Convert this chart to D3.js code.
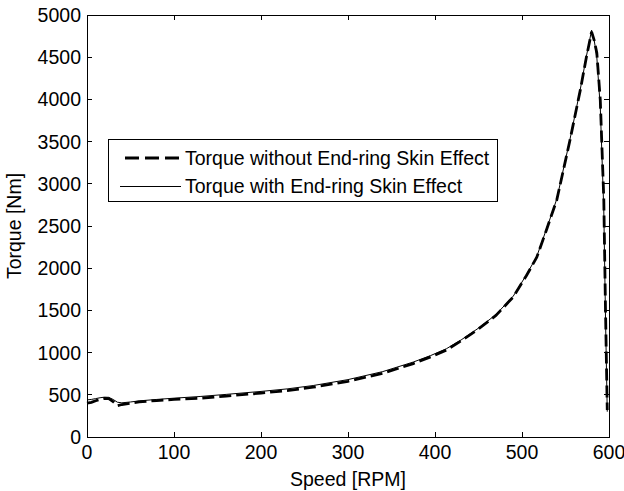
<!DOCTYPE html>
<html>
<head>
<meta charset="utf-8">
<script src="https://cdn.jsdelivr.net/npm/d3@7"></script>
<style>
  body { margin: 0; background: #fff; }
  svg text { font-family: "Liberation Sans", Arial, sans-serif; fill: #000; }
</style>
</head>
<body>
<svg id="chart" width="624" height="491"></svg>
<script>
// speed in RPM, torque in Nm
let speed = [0, 5, 10, 15, 20, 25, 30, 35, 40, 50, 60, 80, 100, 130, 160, 200, 230, 260, 300, 340,
             375, 395, 413, 430, 450, 470, 490, 505, 517, 528, 540, 555, 567, 574, 580, 583, 586, 590, 592, 594, 596, 598]
let torqueNoSkin = [400, 410, 430, 445, 458, 455, 420, 372, 385, 400, 415, 432, 445, 460, 485, 520, 550, 590, 660, 755,
                    870, 950, 1030, 1140, 1280, 1440, 1660, 1910, 2130, 2450, 2810, 3510, 4110, 4500, 4800, 4700, 4550, 3990, 3400, 2830, 1500, 320]
let torqueSkin = [440, 445, 455, 465, 472, 470, 445, 412, 405, 415, 428, 445, 460, 480, 505, 540, 570, 610, 680, 775,
                  888, 965, 1045, 1150, 1290, 1450, 1670, 1920, 2140, 2460, 2820, 3520, 4120, 4510, 4820, 4700, 4500, 3900, 3300, 2700, 1400, 300]
let xTicks = [0, 100, 200, 300, 400, 500, 600]
let yTicks = [0, 500, 1000, 1500, 2000, 2500, 3000, 3500, 4000, 4500, 5000]
let legendLabels = ["Torque without End-ring Skin Effect", "Torque with End-ring Skin Effect"]

let svg = d3.select("#chart")
let pLeft = 87, pRight = 609, pTop = 15, pBottom = 437
let fontSize = 19.5

let x = d3.scaleLinear().domain([0, 600]).range([pLeft, pRight])
let y = d3.scaleLinear().domain([0, 5000]).range([pBottom, pTop])

// ticks on all four sides, pointing inward
let tickLen = 5
let axes = svg.append("g").attr("stroke", "#000").attr("stroke-width", 1).attr("shape-rendering", "crispEdges")
xTicks.forEach(t => {
    axes.append("line").attr("x1", x(t)).attr("x2", x(t)).attr("y1", pBottom).attr("y2", pBottom - tickLen)
    axes.append("line").attr("x1", x(t)).attr("x2", x(t)).attr("y1", pTop).attr("y2", pTop + tickLen)
})
yTicks.forEach(t => {
    axes.append("line").attr("x1", pLeft).attr("x2", pLeft + tickLen).attr("y1", y(t)).attr("y2", y(t))
    axes.append("line").attr("x1", pRight).attr("x2", pRight - tickLen).attr("y1", y(t)).attr("y2", y(t))
})

svg.selectAll(".xlab")
    .data(xTicks)
    .enter()
    .append("text")
        .attr("class", "xlab")
        .attr("x", d => x(d))
        .attr("y", pBottom + 22)
        .attr("text-anchor", "middle")
        .attr("font-size", fontSize)
        .text(d => d)

svg.selectAll(".ylab")
    .data(yTicks)
    .enter()
    .append("text")
        .attr("class", "ylab")
        .attr("x", pLeft - 6)
        .attr("y", d => y(d) + 7)
        .attr("text-anchor", "end")
        .attr("font-size", fontSize)
        .text(d => d)

svg.append("text")
    .attr("x", (pLeft + pRight) / 2)
    .attr("y", 486)
    .attr("text-anchor", "middle")
    .attr("font-size", fontSize)
    .text("Speed [RPM]")

svg.append("text")
    .attr("transform", `translate(21,${(pTop + pBottom) / 2}) rotate(-90)`)
    .attr("text-anchor", "middle")
    .attr("font-size", fontSize)
    .text("Torque [Nm]")

let line = d3.line()
    .x(d => x(d[0]))
    .y(d => y(d[1]))

svg.append("path")
    .datum(d3.zip(speed, torqueNoSkin))
    .attr("d", line)
    .attr("fill", "none")
    .attr("stroke", "#000")
    .attr("stroke-width", 2.8)
    .attr("stroke-dasharray", "12,5")

svg.append("path")
    .datum(d3.zip(speed, torqueSkin))
    .attr("d", line)
    .attr("fill", "none")
    .attr("stroke", "#000")
    .attr("stroke-width", 1)

// plot frame
svg.append("rect")
    .attr("x", pLeft).attr("y", pTop)
    .attr("width", pRight - pLeft).attr("height", pBottom - pTop)
    .attr("fill", "none").attr("stroke", "#000").attr("stroke-width", 1)
    .attr("shape-rendering", "crispEdges")

// legend
let lg = svg.append("g")
lg.append("rect")
    .attr("x", 108).attr("y", 139)
    .attr("width", 389).attr("height", 62)
    .attr("fill", "#fff").attr("stroke", "#000").attr("stroke-width", 1)
    .attr("shape-rendering", "crispEdges")

let rows = [158, 186]
lg.append("line")
    .attr("x1", 125).attr("x2", 181).attr("y1", rows[0]).attr("y2", rows[0])
    .attr("stroke", "#000").attr("stroke-width", 2.8).attr("stroke-dasharray", "14,6")
lg.append("line")
    .attr("x1", 120).attr("x2", 181).attr("y1", rows[1]).attr("y2", rows[1])
    .attr("stroke", "#000").attr("stroke-width", 1)
    .attr("shape-rendering", "crispEdges")

lg.selectAll(".legtxt")
    .data(legendLabels)
    .enter()
    .append("text")
        .attr("class", "legtxt")
        .attr("x", 185)
        .attr("y", (d, i) => rows[i] + 7)
        .attr("font-size", fontSize)
        .text(d => d)
</script>
</body>
</html>
